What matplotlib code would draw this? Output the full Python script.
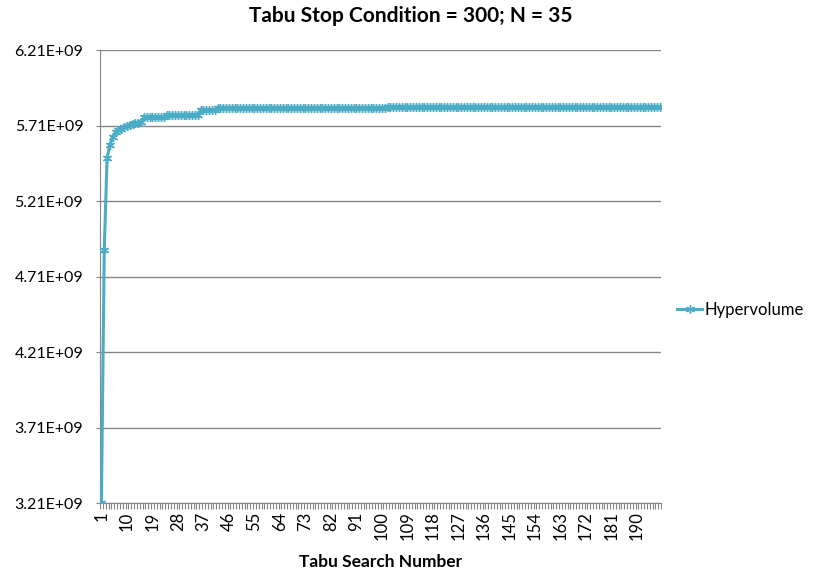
import matplotlib.pyplot as plt
import numpy as np
from matplotlib.ticker import FuncFormatter

plt.rcParams['font.family'] = ['Lato', 'DejaVu Sans']

# first iterations, hypervolume in units of 1e9
head_values = [3.21, 4.885, 5.495, 5.58, 5.635, 5.665, 5.68, 5.69, 5.70,
               5.705, 5.715, 5.72, 5.725, 5.728, 5.73]
# plateaus afterwards: level and how many searches it lasted
plateau_levels = [5.763, 5.780, 5.812, 5.826, 5.829, 5.831]
plateau_lengths = [8, 12, 6, 20, 40, 97]

hypervolume = np.concatenate([head_values,
                              np.repeat(plateau_levels, plateau_lengths)]) * 1e9
search_no = np.arange(1, len(hypervolume) + 1)

y_ticks = np.arange(3.21e9, 6.22e9, 0.5e9)
x_labels = list(range(1, 191, 9))

grey = '#868686'
aqua = '#4BACC6'

fig = plt.figure(figsize=(8.14, 5.76), dpi=100)
ax = fig.add_axes([100 / 814, 1 - 503 / 576, 561 / 814, 453 / 576])

line, = ax.plot(search_no, hypervolume, color=aqua, linewidth=2.2,
                marker=(6, 2, 0), markersize=6.5, markeredgewidth=1.0,
                markeredgecolor=aqua, label='Hypervolume', zorder=3)

ax.set_xlim(0.5, len(hypervolume) + 0.5)
ax.set_ylim(y_ticks[0], y_ticks[-1])
ax.set_yticks(y_ticks)
ax.yaxis.set_major_formatter(FuncFormatter(lambda v, p: '{:.2E}'.format(v)))
ax.grid(axis='y', color=grey, linewidth=1)
ax.set_axisbelow(True)

ax.set_xticks(x_labels)
ax.set_xticklabels([str(v) for v in x_labels], rotation=90)
ax.set_xticks(np.arange(0.5, len(hypervolume) + 1), minor=True)
ax.tick_params(axis='x', which='major', length=0, pad=6, labelsize=12)
ax.tick_params(axis='x', which='minor', length=4, color=grey, width=0.8)
ax.tick_params(axis='y', length=3, color=grey, labelsize=11.5, pad=9)

for side in ('top', 'right'):
    ax.spines[side].set_visible(False)
for side in ('left', 'bottom'):
    ax.spines[side].set_color(grey)

fig.suptitle('Tabu Stop Condition = 300; N = 35', x=0.505, y=0.99,
             fontsize=15, fontweight='bold')
fig.text(381 / 814, 1 - 562 / 576, 'Tabu Search Number', ha='center',
         va='center', fontsize=12.5, fontweight='bold')

fig.legend(handles=[line], loc='center left',
           bbox_to_anchor=(677 / 814, 1 - 310 / 576), frameon=False,
           borderpad=0, borderaxespad=0,
           handlelength=1.5, handletextpad=0.15, fontsize=12)

fig.savefig('out.png', dpi=100)
